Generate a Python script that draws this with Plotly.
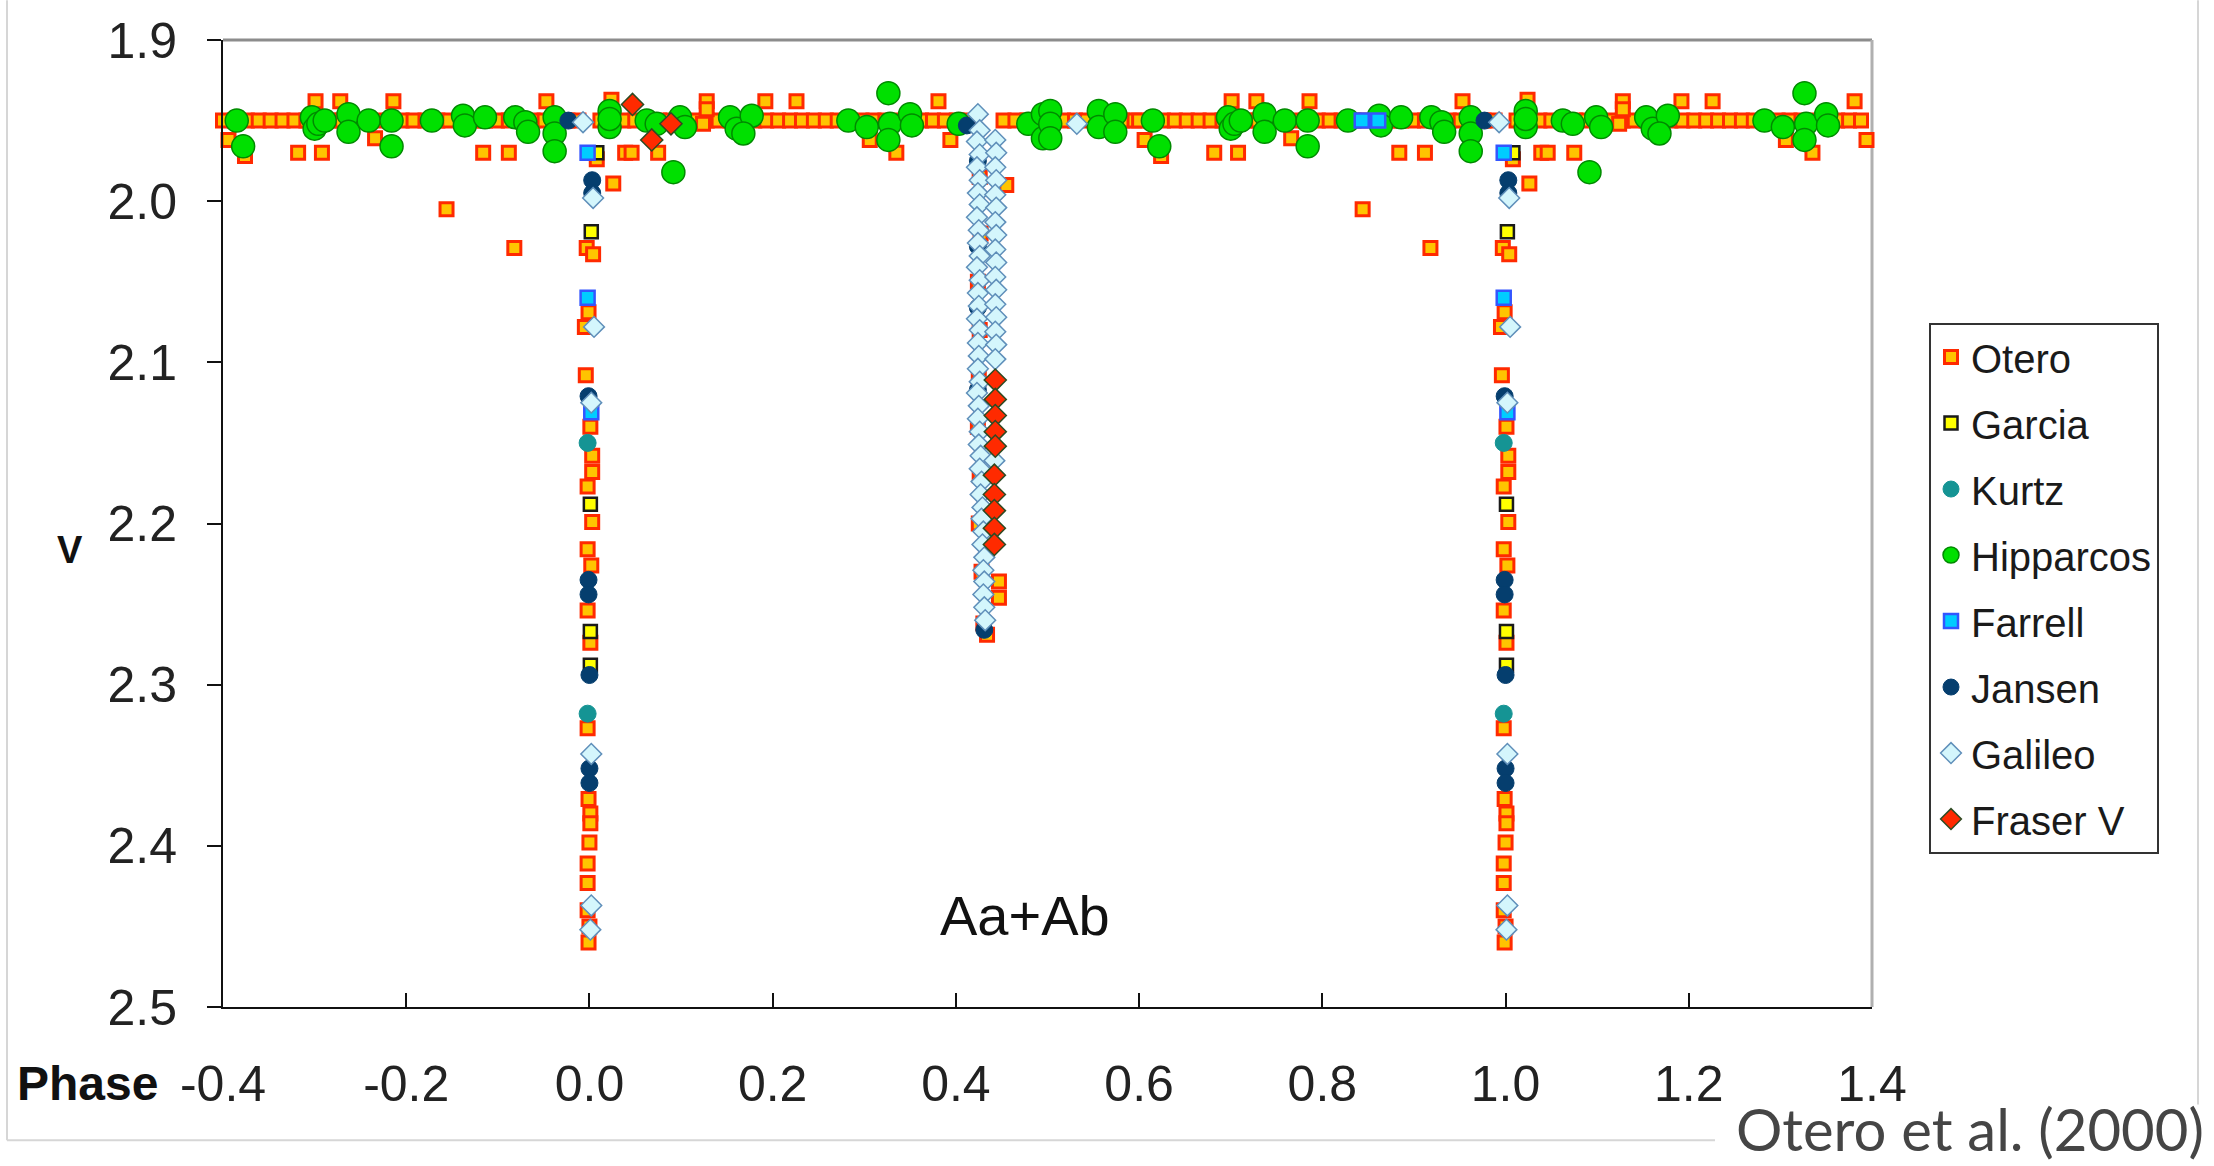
import plotly.graph_objects as go

# ---------------- data (phase, V) ----------------
# Series marked as folded are also shown at phase+1 (phase diagram repeated up to 1.4)
otero_phase = [
    -0.400, -0.387, -0.374, -0.361, -0.348, -0.335, -0.322, -0.309, -0.296, -0.283,
    -0.270, -0.257, -0.244, -0.231, -0.218, -0.205, -0.192, -0.179, -0.166, -0.153,
    -0.140, -0.127, -0.114, -0.101, -0.088, -0.075, -0.062, -0.049, -0.036, -0.024,
    -0.012, 0.012, 0.024, 0.037, 0.050, 0.063, 0.076, 0.089, 0.102, 0.115,
    0.128, 0.141, 0.154, 0.167, 0.180, 0.193, 0.206, 0.219, 0.232, 0.245,
    0.258, 0.271, 0.284, 0.297, 0.310, 0.323, 0.336, 0.349, 0.362, 0.375,
    0.388, 0.401, 0.414, 0.452, 0.465, 0.478, 0.491, 0.504, 0.517, 0.530,
    0.543, 0.556, 0.569, 0.582, 0.595,
    -0.299, -0.272, -0.214, -0.047, 0.024, 0.128, 0.128, 0.192, 0.226, 0.381, 0.124,
    -0.376, -0.318, -0.292, -0.116, -0.088, 0.039, 0.046, 0.075, 0.335,
    -0.394, -0.234, 0.306, 0.394, -0.156, -0.082, 0.026, 0.008,
    -0.003, 0.004, -0.001, -0.005, -0.004, 0.001, 0.003, 0.003, -0.002, 0.003,
    -0.002, 0.002, -0.002, 0.001, -0.002, -0.001, 0.001, 0.000, 0.001, -0.002,
    -0.002, -0.002, 0.000, -0.001,
    0.426, 0.427, 0.424, 0.426, 0.425, 0.424, 0.426, 0.425, 0.428, 0.447,
    0.447, 0.430, 0.434, 0.455,
]
otero_v = [
    1.95, 1.95, 1.95, 1.95, 1.95, 1.95, 1.95, 1.95, 1.95, 1.95,
    1.95, 1.95, 1.95, 1.95, 1.95, 1.95, 1.95, 1.95, 1.95, 1.95,
    1.95, 1.95, 1.95, 1.95, 1.95, 1.95, 1.95, 1.95, 1.95, 1.95,
    1.95, 1.95, 1.95, 1.95, 1.95, 1.95, 1.95, 1.95, 1.95, 1.95,
    1.95, 1.95, 1.95, 1.95, 1.95, 1.95, 1.95, 1.95, 1.95, 1.95,
    1.95, 1.95, 1.95, 1.95, 1.95, 1.95, 1.95, 1.95, 1.95, 1.95,
    1.95, 1.95, 1.95, 1.95, 1.95, 1.95, 1.95, 1.95, 1.95, 1.95,
    1.95, 1.95, 1.95, 1.95, 1.95,
    1.938, 1.938, 1.938, 1.938, 1.937, 1.938, 1.943, 1.938, 1.938, 1.938, 1.952,
    1.972, 1.970, 1.970, 1.970, 1.970, 1.970, 1.970, 1.970, 1.970,
    1.962, 1.961, 1.962, 1.962, 2.005, 2.029, 1.989, 1.974,
    2.029, 2.033, 2.069, 2.078, 2.108, 2.140, 2.158, 2.168, 2.177, 2.199,
    2.216, 2.226, 2.254, 2.274, 2.327, 2.371, 2.380, 2.398, 2.386, 2.411,
    2.423, 2.440, 2.450, 2.460,
    1.985, 2.020, 2.050, 2.080, 2.110, 2.140, 2.170, 2.200, 2.230, 2.236,
    2.246, 2.262, 2.269, 1.990,
]

garcia_phase = [0.008, 0.002, 0.001, 0.001, 0.001]
garcia_v = [1.970, 2.019, 2.188, 2.267, 2.288]

kurtz_phase = [-0.002, -0.002]
kurtz_v = [2.150, 2.318]

hipparcos_phase = [
    -0.385, -0.378, -0.303, -0.300, -0.296, -0.289, -0.263, -0.263, -0.241, -0.216,
    -0.216, -0.172, -0.138, -0.136, -0.114, -0.081, -0.070, -0.067, -0.038, -0.038,
    -0.038, 0.022, 0.022, 0.022,
    0.0625, 0.0734, 0.0989, 0.1043, 0.0916, 0.1535, 0.1607, 0.1771, 0.168, 0.2826,
    0.3027, 0.3263, 0.3281, 0.3263, 0.350, 0.352, 0.403, 0.479, 0.495, 0.495,
    0.503, 0.503, 0.503, 0.556, 0.556, 0.574, 0.574,
]
hipparcos_v = [
    1.950, 1.966, 1.948, 1.955, 1.952, 1.950, 1.946, 1.957, 1.950, 1.950,
    1.966, 1.950, 1.947, 1.953, 1.948, 1.948, 1.951, 1.957, 1.948, 1.958,
    1.969, 1.944, 1.954, 1.949,
    1.950, 1.952, 1.948, 1.954, 1.982, 1.948, 1.955, 1.947, 1.958, 1.950,
    1.954, 1.933, 1.952, 1.962, 1.946, 1.953, 1.952, 1.952, 1.946, 1.961,
    1.944, 1.952, 1.961, 1.944, 1.954, 1.946, 1.957,
]

farrell_phase = [-0.002, -0.002, 0.002, 0.843, 0.861]
farrell_v = [1.970, 2.060, 2.131, 1.950, 1.950]

jansen_phase = [
    -0.023, 0.003, 0.003, -0.001, -0.001, -0.001, 0.000, 0.000, 0.000,
    0.412, 0.424, 0.424, 0.424, 0.424, 0.431,
]
jansen_v = [
    1.950, 1.987, 1.995, 2.121, 2.235, 2.244, 2.294, 2.352, 2.361,
    1.953, 1.975, 2.028, 2.066, 2.117, 2.266,
]

galileo_phase = [
    -0.007, 0.004, 0.005, 0.002, 0.002, 0.002, 0.001, 0.532,
    0.424, 0.426, 0.423, 0.426, 0.423, 0.426, 0.424, 0.426, 0.423, 0.425,
    0.424, 0.426, 0.423, 0.426, 0.424, 0.425, 0.423, 0.426, 0.424, 0.425,
    0.424, 0.426, 0.423, 0.425, 0.424, 0.426, 0.425, 0.427, 0.426, 0.428,
    0.427, 0.429, 0.428, 0.430, 0.429, 0.431, 0.430, 0.431, 0.430, 0.431,
    0.432,
    0.443, 0.444, 0.443, 0.444, 0.443, 0.444, 0.443, 0.444, 0.443, 0.444,
    0.443, 0.444, 0.443, 0.444, 0.443, 0.444, 0.443, 0.442,
]
galileo_v = [
    1.951, 1.998, 2.078, 2.125, 2.343, 2.437, 2.452, 1.952,
    1.946, 1.956, 1.963, 1.971, 1.979, 1.987, 1.995, 2.002, 2.010, 2.018,
    2.026, 2.034, 2.041, 2.049, 2.057, 2.065, 2.073, 2.080, 2.088, 2.096,
    2.104, 2.112, 2.119, 2.127, 2.135, 2.143, 2.151, 2.158, 2.166, 2.174,
    2.182, 2.190, 2.197, 2.205, 2.213, 2.221, 2.229, 2.236, 2.244, 2.252,
    2.260,
    1.962, 1.970, 1.979, 1.987, 1.996, 2.004, 2.013, 2.021, 2.030, 2.038,
    2.047, 2.055, 2.064, 2.072, 2.081, 2.089, 2.098, 2.161,
]

fraser_phase = [0.047, 0.068, 0.089,
                0.443, 0.443, 0.443, 0.443, 0.443, 0.442, 0.442, 0.442, 0.442, 0.442]
fraser_v = [1.940, 1.962, 1.952,
            2.111, 2.123, 2.133, 2.143, 2.152, 2.170, 2.182, 2.192, 2.203, 2.213]

x_tick_vals = [-0.4, -0.2, 0.0, 0.2, 0.4, 0.6, 0.8, 1.0, 1.2, 1.4]
x_tick_text = ["-0.4", "-0.2", "0.0", "0.2", "0.4", "0.6", "0.8", "1.0", "1.2", "1.4"]
y_tick_vals = [1.9, 2.0, 2.1, 2.2, 2.3, 2.4, 2.5]
y_tick_text = ["1.9", "2.0", "2.1", "2.2", "2.3", "2.4", "2.5"]

X_MIN, X_MAX = -0.4, 1.4


def fold(ph, v):
    xs, ys = list(ph), list(v)
    for p, m in zip(ph, v):
        if p + 1 <= X_MAX + 1e-9:
            xs.append(p + 1)
            ys.append(m)
    return xs, ys


# ---------------- figure layout in pixels ----------------
W, H = 2214, 1166
L, R, T, B = 223, 1872, 35, 1007   # plot area edges


def px(xp):
    return (xp - L) / (R - L)


def py(yp):
    return (B - yp) / (B - T)


TICK_FONT = "Liberation Sans Narrow, Arial Narrow, Liberation Sans, Arial, sans-serif"
TEXT_FONT = "Liberation Sans, Arial, sans-serif"

series = [
    ("Otero", *fold(otero_phase, otero_v),
     dict(symbol="square", size=13, color="#FFC400", line=dict(color="#FF2A00", width=3))),
    ("Garcia", *fold(garcia_phase, garcia_v),
     dict(symbol="square", size=13, color="#FFFF00", line=dict(color="#1A1A1A", width=2.5))),
    ("Kurtz", *fold(kurtz_phase, kurtz_v),
     dict(symbol="circle", size=17, color="#159494", line=dict(color="#159494", width=1))),
    ("Hipparcos", *fold(hipparcos_phase, hipparcos_v),
     dict(symbol="circle", size=23, color="#00E000", line=dict(color="#008A00", width=1.5))),
    ("Farrell", *fold(farrell_phase, farrell_v),
     dict(symbol="square", size=14, color="#00CCFF", line=dict(color="#3355FF", width=2.5))),
    ("Jansen", *fold(jansen_phase, jansen_v),
     dict(symbol="circle", size=17, color="#053E6E", line=dict(color="#053E6E", width=1))),
    ("Galileo", *fold(galileo_phase, galileo_v),
     dict(symbol="diamond", size=16, color="#D4F6FC", line=dict(color="#5F8FBA", width=1.5))),
    ("Fraser V", fraser_phase, fraser_v,
     dict(symbol="diamond", size=17, color="#FF2A00", line=dict(color="#2E4A22", width=1.5))),
]

fig = go.Figure()
for i, (name, xs, ys, mk) in enumerate(series):
    fig.add_trace(go.Scatter(
        x=xs, y=ys, mode="markers", name=name, marker=mk,
        cliponaxis=False, legendgroup=f"g{i}",
    ))

fig.update_layout(
    width=W, height=H,
    margin=dict(l=L, r=W - R, t=T, b=H - B, pad=0),
    paper_bgcolor="white", plot_bgcolor="white",
    showlegend=True,
    legend=dict(
        x=px(1929), y=py(319), xanchor="left", yanchor="top",
        bgcolor="white", bordercolor="#333333", borderwidth=2,
        font=dict(family=TEXT_FONT, size=40, color="#1A1A1A"),
        traceorder="grouped", tracegroupgap=11,
        itemsizing="trace",
    ),
    xaxis=dict(
        range=[X_MIN, X_MAX], tickvals=x_tick_vals, ticktext=x_tick_text,
        showgrid=False, zeroline=False, showline=True, linecolor="#111111", linewidth=2,
        ticks="inside", ticklen=14, tickwidth=2, tickcolor="#111111",
        tickfont=dict(family=TICK_FONT, size=50, color="#222222"),
        ticklabelstandoff=32,
    ),
    yaxis=dict(
        range=[2.5, 1.9], tickvals=y_tick_vals, ticktext=y_tick_text,
        showgrid=False, zeroline=False, showline=True, linecolor="#111111", linewidth=2,
        ticks="outside", ticklen=14, tickwidth=2, tickcolor="#111111",
        tickfont=dict(family=TICK_FONT, size=50, color="#222222"),
        ticklabelstandoff=20,
    ),
    shapes=[
        # outer chart frame (left, bottom, right); stops where the citation sits
        dict(type="line", xref="paper", yref="paper",
             x0=px(7), x1=px(7), y0=py(1141), y1=py(-5),
             line=dict(color="#D6D6D6", width=2), layer="below"),
        dict(type="line", xref="paper", yref="paper",
             x0=px(7), x1=px(1715), y0=py(1141), y1=py(1141),
             line=dict(color="#D6D6D6", width=2), layer="below"),
        dict(type="line", xref="paper", yref="paper",
             x0=px(2198), x1=px(2198), y0=py(1105), y1=py(-5),
             line=dict(color="#D6D6D6", width=2), layer="below"),
        # plot-area border (top and right)
        dict(type="line", xref="paper", yref="paper", x0=0, x1=1, y0=1, y1=1,
             line=dict(color="#8C8C8C", width=3), layer="below"),
        dict(type="line", xref="paper", yref="paper", x0=1, x1=1, y0=0, y1=1,
             line=dict(color="#B0B0B0", width=3), layer="below"),
    ],
    annotations=[
        dict(text="<b>Phase</b>", xref="paper", yref="paper", x=px(87), y=py(1084),
             xanchor="center", yanchor="middle", showarrow=False,
             font=dict(family=TICK_FONT, size=48, color="#111111")),
        dict(text="<b>V</b>", xref="paper", yref="paper", x=px(70), y=py(548),
             xanchor="center", yanchor="middle", showarrow=False,
             font=dict(family=TEXT_FONT, size=38, color="#111111")),
        dict(text="Aa+Ab", xref="x", yref="y", x=0.475, y=2.443,
             xanchor="center", yanchor="middle", showarrow=False,
             font=dict(family=TEXT_FONT, size=56, color="#111111")),
        dict(text="Otero et al. (2000)", xref="paper", yref="paper", x=px(2205), y=py(1165),
             xanchor="right", yanchor="bottom", showarrow=False, borderpad=0,
             font=dict(family="Lato, Open Sans, sans-serif", size=58, color="#454545")),
    ],
)

fig.write_html("out.html")
